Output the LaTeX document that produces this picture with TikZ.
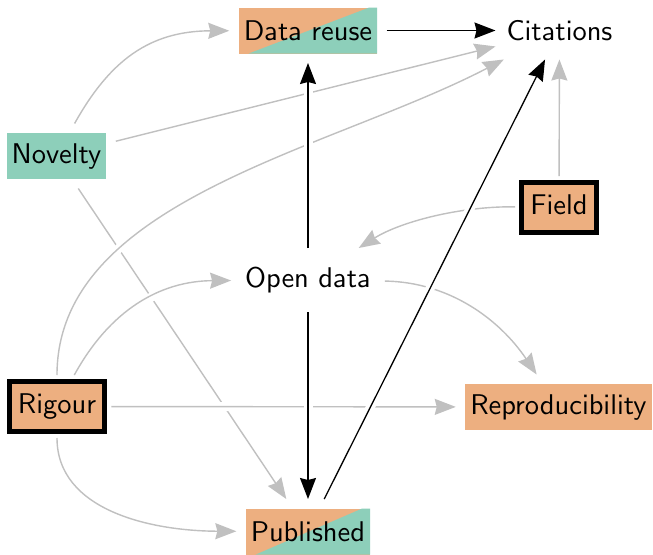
\documentclass[tikz,border=0pt]{standalone}
\usetikzlibrary{arrows.meta}
\definecolor{borange}{RGB}{237,175,128}
\definecolor{bgreen}{RGB}{141,207,186}
\definecolor{egray}{RGB}{192,192,192}
\font\lmsx=cmss10 at 28.5pt
\begin{document}
\begin{tikzpicture}[x=1pt,y=-1pt,
  font=\lmsx,
  every node/.style={inner ysep=0pt, text height=19.5pt, text depth=5.5pt, minimum height=46pt},
  box/.style={inner xsep=5pt, outer sep=9.5pt},
  plain/.style={inner xsep=5pt, outer sep=6pt},
  lowtext/.style={text height=22.5pt, text depth=2.5pt},
  split/.style={fill=borange, path picture={\fill[bgreen] ([xshift=10pt]path picture bounding box.south west) -- (path picture bounding box.south east) -- (path picture bounding box.north east) -- ([xshift=-8pt]path picture bounding box.north east) -- cycle;}},
  thickbox/.style={draw=black, line width=5pt, fill=borange, inner xsep=8.7pt, minimum height=50pt, outer sep=6.5pt},
  tip/.style={-{Stealth[length=21pt,width=16pt,inset=2pt]}},
  gedge/.style={draw=egray, line width=1.4pt, tip, preaction={draw=white, line width=9pt, -}},
  bedge/.style={draw=black, line width=1.3pt, tip, preaction={draw=white, line width=9pt, -}}
]
\fill[white] (0,0) rectangle (653,554);
\useasboundingbox (0,0) rectangle (653,554);

\node[box, split, lowtext] (datareuse) at (308,30.5) {Data reuse};
\node[plain, lowtext] (citations) at (559.5,30.5) {Citations};
\node[box, fill=bgreen] (novelty) at (56.5,156) {Novelty};
\node[thickbox] (field) at (559,207.5) {Field};
\node[plain, outer sep=9pt] (opendata) at (308,280) {Open data};
\node[thickbox] (rigour) at (57,406.5) {Rigour};
\node[box, fill=borange] (repro) at (558.5,407) {Reproducibility};
\node[box, split, lowtext] (published) at (308,531.5) {Published};

% grey connectors
\draw[gedge] (novelty) -- (published);
\draw[gedge] (novelty) .. controls (110,60) and (150,31) .. (datareuse);
\draw[gedge] (novelty) -- (citations);
\draw[gedge] (rigour) .. controls (57,200) and (330,150) .. (citations);
\draw[gedge] (rigour) .. controls (110,310) and (160,281) .. (opendata);
\draw[gedge] (rigour) -- (repro);
\draw[gedge] (rigour) .. controls (57,510) and (150,531) .. (published);
\draw[gedge] (field) .. controls (460,206) and (400,222) .. (opendata);
\draw[gedge] (field) -- (citations);
\draw[gedge] (opendata) .. controls (450,282) and (500,320) .. (repro);

% black connectors
\draw[bedge] (datareuse) -- (citations);
\draw[bedge] (opendata) -- (datareuse);
\draw[bedge] (opendata) -- (published);
\draw[bedge] (published) -- (citations);
\end{tikzpicture}
\end{document}
